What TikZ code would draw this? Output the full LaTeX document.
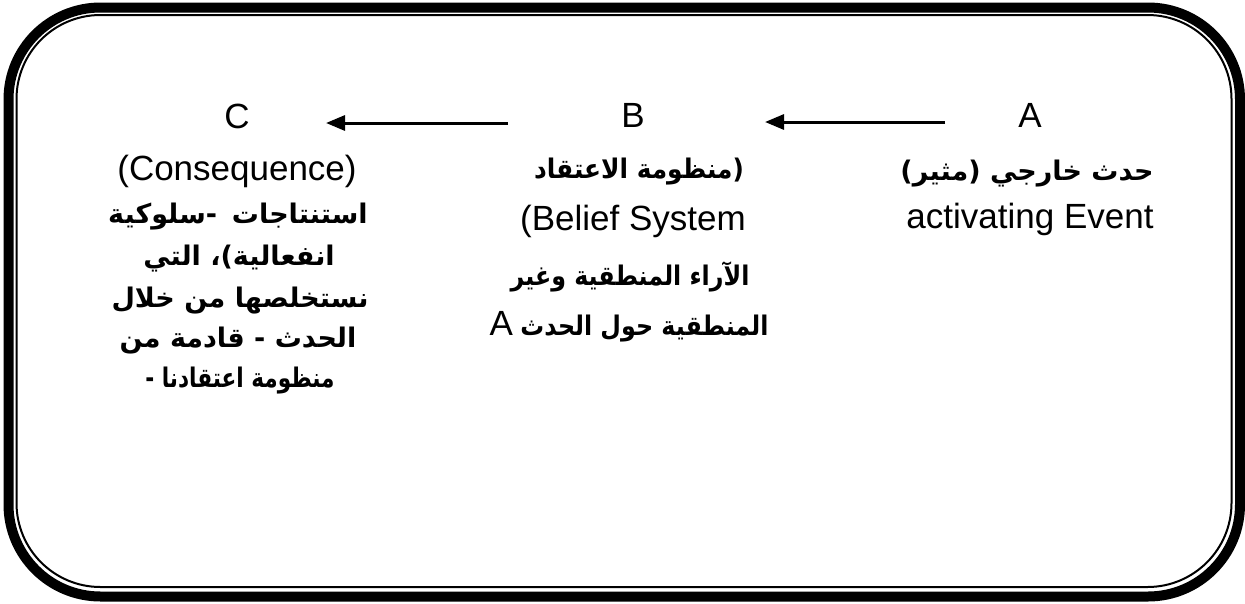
\documentclass[tikz,border=0pt]{standalone}
\usepackage{fontspec}
\setmainfont{Liberation Sans}
\newfontfamily\arb[Script=Arabic]{DejaVu Sans}
\TeXXeTstate=1
\usetikzlibrary{arrows.meta}
\newcommand{\AR}[1]{{\arb\bfseries\beginR #1\endR}}
\newcommand{\APR}[1]{{\arb\bfseries #1}}
\begin{document}
\begin{tikzpicture}[x=1pt,y=-1pt,
  lat/.style={font=\fontsize{35}{40}\selectfont, inner sep=0pt, anchor=base},
  ara/.style={font=\fontsize{27}{30}\selectfont, inner sep=0pt, anchor=base},
  arr/.style={line width=3pt, -{Triangle[length=19pt,width=15pt]}},
  frameout/.style={line width=10pt, rounded corners=92pt},
  framein/.style={line width=2pt, rounded corners=84pt}]
\useasboundingbox (0,0) rectangle (1245,603);
\fill[white] (0,0) rectangle (1245,603);
\draw[frameout] (8.5,7.5) rectangle (1240,596.5);
\draw[framein] (16.5,15) rectangle (1231.5,587);

% column A
\node[lat] (A) at (1030,127) {A};
\node[ara] (A1) at (1027,180) {\AR{حدث خارجي (مثير)}};
\node[lat] (A2) at (1030,228) {activating Event};

% column B
\node[lat] (B) at (633,127) {B};
\node[ara] (B1) at (639,178) {\scalebox{0.92}[1]{\AR{(منظومة الاعتقاد}}};
\node[lat] (B2) at (633,230) {(Belief System};
\node[ara] (B3) at (630,285) {\scalebox{0.88}[1]{\AR{الآراء المنطقية وغير}}};
\node[ara] (B4) at (629,335) {{\fontsize{35}{40}\selectfont A} \scalebox{0.88}[1]{\AR{المنطقية حول الحدث}}};

% column C
\node[lat] (C) at (237,128) {C};
\node[lat] (C1) at (237,180) {(Consequence)};
\node[ara] (C2) at (238,223) {\AR{سلوكية}\APR{-}\ \ \AR{استنتاجات}};
\node[ara] (C3) at (239,265) {\AR{انفعالية)، التي}};
\node[ara] (C4) at (240,307) {\AR{نستخلصها من خلال}};
\node[ara] (C5) at (238,347) {\AR{الحدث - قادمة من}};
\node[ara] (C6) at (240,387) {\scalebox{0.8}[1]{\AR{منظومة اعتقادنا -}}};

% arrows
\coordinate (ab0) at (945,122);
\coordinate (ab1) at (765,122);
\coordinate (bc0) at (508,123);
\coordinate (bc1) at (326,123);
\draw[arr] (ab0) -- (ab1);
\draw[arr] (bc0) -- (bc1);
\end{tikzpicture}
\end{document}
